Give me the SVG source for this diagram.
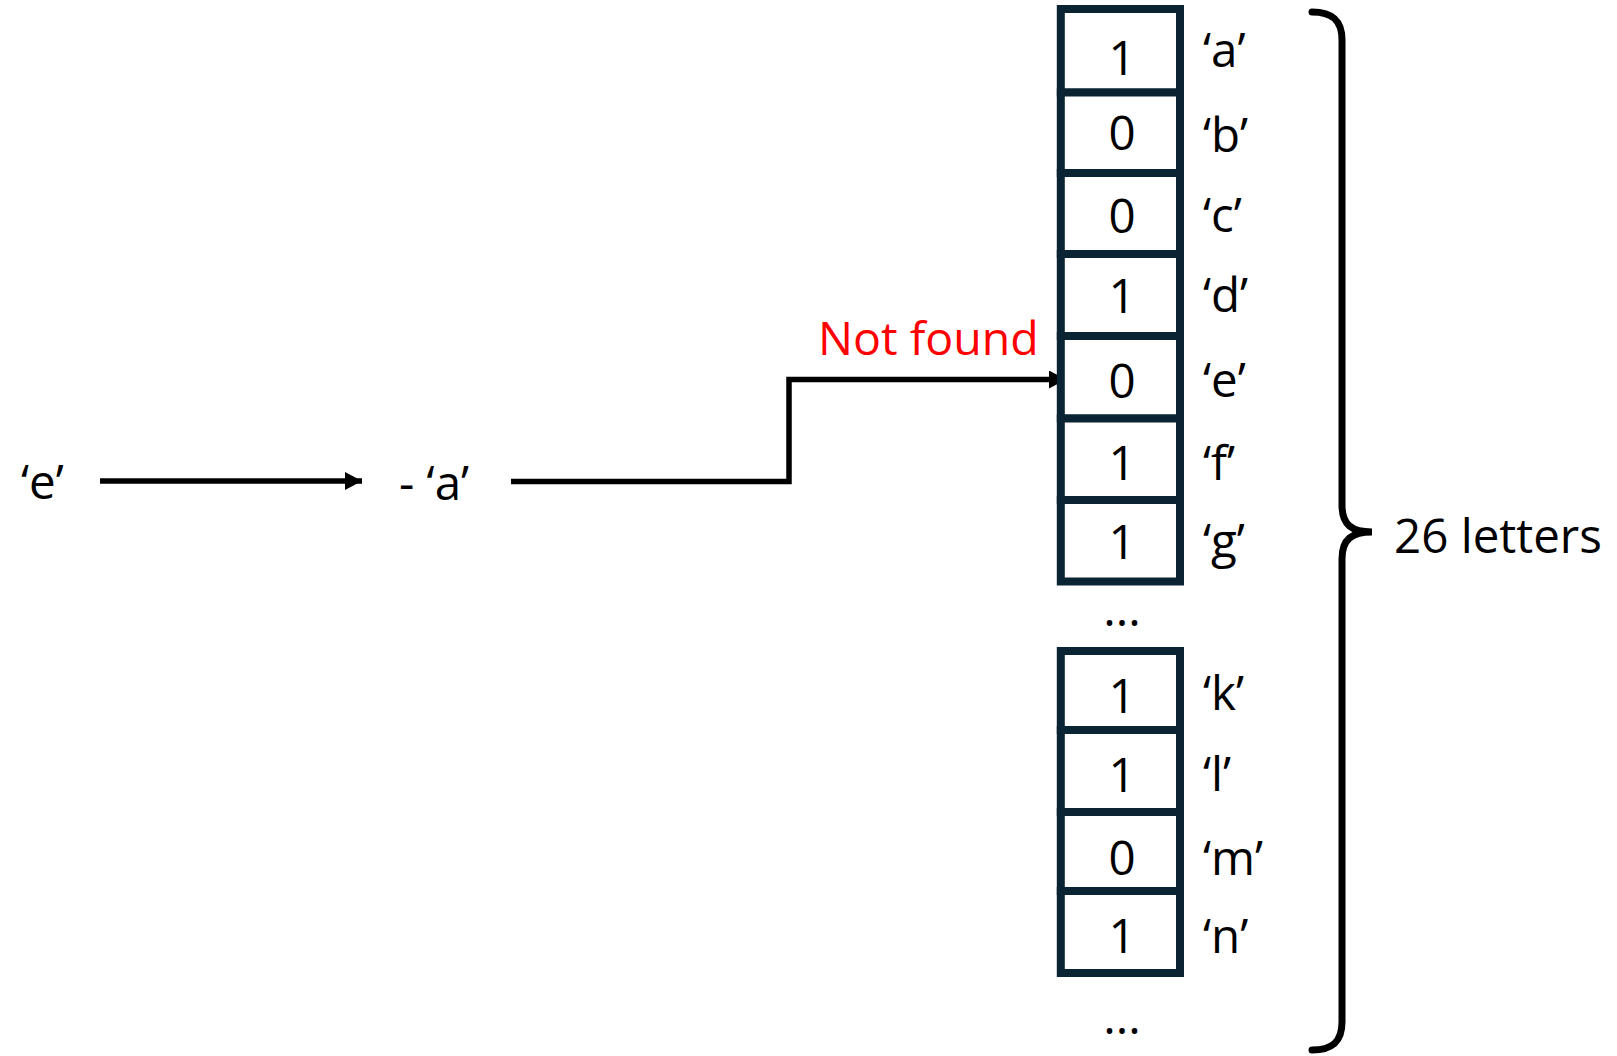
<svg xmlns="http://www.w3.org/2000/svg" width="1617" height="1056" viewBox="0 0 1617 1056">
<style>
text{font-family:"Open Sans","Noto Sans","Liberation Sans",sans-serif;font-size:47.5px;fill:#000}
.cell{fill:#fff;stroke:#0B2434;stroke-width:8}
.num{text-anchor:middle}
.red{fill:#FF0000;font-size:46.5px}
.conn{fill:none;stroke:#000;stroke-width:5.5}
.brace{fill:none;stroke:#000;stroke-width:7;stroke-linecap:round}
</style>
<defs>
<marker id="ah" markerUnits="userSpaceOnUse" markerWidth="20" markerHeight="20" refX="17" refY="9" orient="auto">
<path d="M0,0 L17,9 L0,18 Z" fill="#000"/>
</marker>
</defs>
<rect width="1617" height="1056" fill="#fff"/>
<g id="connectors">
<line class="conn" x1="100" y1="481" x2="362" y2="481" marker-end="url(#ah)"/>
<polyline class="conn" points="511,481.5 789,481.5 789,379.5 1066,379.5" marker-end="url(#ah)"/>
</g>
<g id="src"><text x="21" y="499">‘e’</text></g>
<g id="sub"><text x="399" y="500">- ‘a’</text></g>
<g id="notfound"><text class="red" x="818" y="355">Not found</text></g>
<g id="cell-a"><rect class="cell" x="1060.8" y="9" width="119.2" height="83.5"/><text class="num" x="1122" y="75">1</text><text x="1203" y="66.7">‘a’</text></g>
<g id="cell-b"><rect class="cell" x="1060.8" y="92.5" width="119.2" height="80.5"/><text class="num" x="1122" y="150">0</text><text x="1203" y="151.7">‘b’</text></g>
<g id="cell-c"><rect class="cell" x="1060.8" y="173" width="119.2" height="81"/><text class="num" x="1122" y="233">0</text><text x="1203" y="231.7">‘c’</text></g>
<g id="cell-d"><rect class="cell" x="1060.8" y="254" width="119.2" height="82"/><text class="num" x="1122" y="312.7">1</text><text x="1203" y="311.7">‘d’</text></g>
<g id="cell-e"><rect class="cell" x="1060.8" y="336" width="119.2" height="82.5"/><text class="num" x="1122" y="398.3">0</text><text x="1203" y="396.7">‘e’</text></g>
<g id="cell-f"><rect class="cell" x="1060.8" y="418.5" width="119.2" height="81.5"/><text class="num" x="1122" y="480">1</text><text x="1203" y="480">‘f’</text></g>
<g id="cell-g"><rect class="cell" x="1060.8" y="500" width="119.2" height="81.5"/><text class="num" x="1122" y="559.3">1</text><text x="1203" y="558">‘g’</text></g>
<g id="dots1"><text class="num" x="1122" y="626">...</text></g>
<g id="cell-k"><rect class="cell" x="1060.8" y="651" width="119.2" height="79"/><text class="num" x="1122" y="713.3">1</text><text x="1203" y="710">‘k’</text></g>
<g id="cell-l"><rect class="cell" x="1060.8" y="730" width="119.2" height="82"/><text class="num" x="1122" y="791.7">1</text><text x="1203" y="790.7">‘l’</text></g>
<g id="cell-m"><rect class="cell" x="1060.8" y="812" width="119.2" height="79"/><text class="num" x="1122" y="875">0</text><text x="1203" y="875">‘m’</text></g>
<g id="cell-n"><rect class="cell" x="1060.8" y="891" width="119.2" height="82"/><text class="num" x="1122" y="952.7">1</text><text x="1203" y="953">‘n’</text></g>
<g id="dots2"><text class="num" x="1122" y="1034">...</text></g>
<g id="brace">
<path class="brace" d="M1312,12 C1332,12 1342,20 1342,40 L1342,505 C1342,525 1352,532 1372,532 C1352,532 1342,539 1342,559 L1342,1022 C1342,1042 1332,1050 1312,1050"/>
<text x="1394" y="553">26 letters</text>
</g>
</svg>
